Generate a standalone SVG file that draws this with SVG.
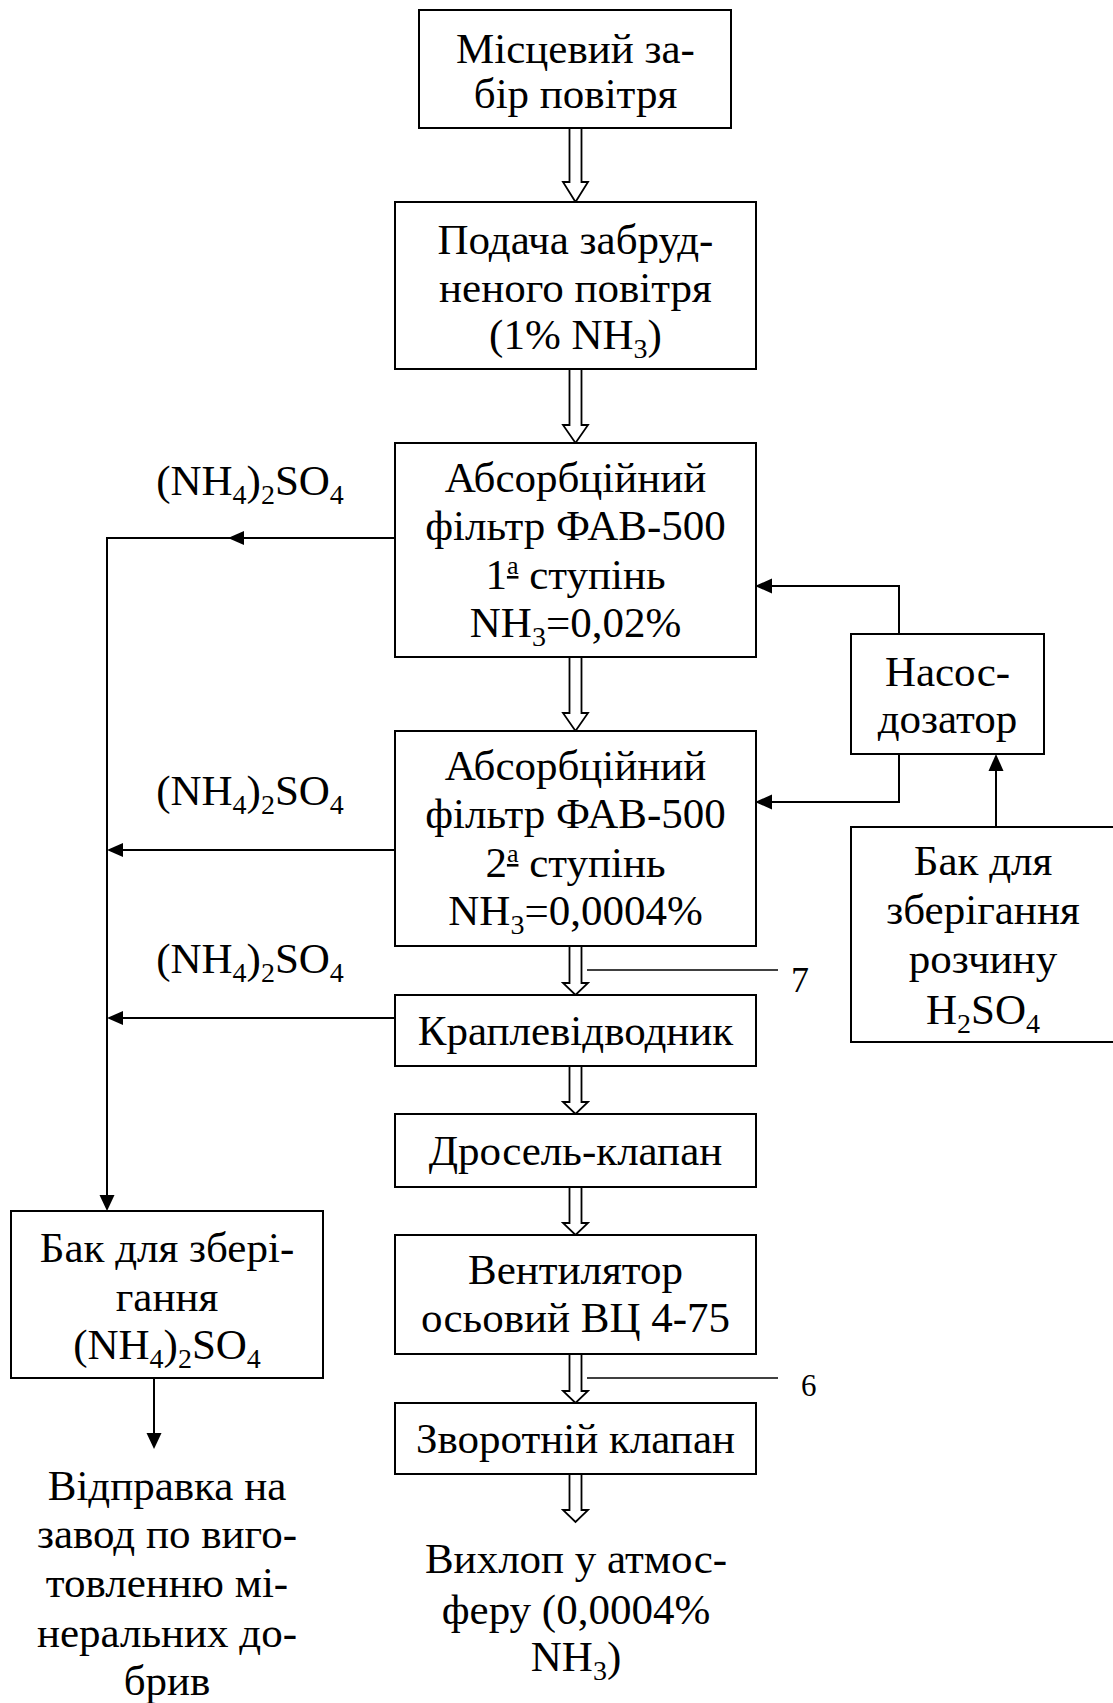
<svg xmlns="http://www.w3.org/2000/svg" width="1113" height="1703" viewBox="0 0 1113 1703">
<style>
  text { font-family: "Liberation Serif", "Times New Roman", serif; font-size: 43px; fill: #000; text-anchor: middle; }
  .box { fill: #fff; stroke: #000; stroke-width: 2; }
  .ln { fill: none; stroke: #000; stroke-width: 2; }
  .thin { fill: none; stroke: #000; stroke-width: 1.5; }
  .hollow { fill: #fff; stroke: #000; stroke-width: 1.8; stroke-linejoin: miter; }
  .head { fill: #000; stroke: none; }
  .sub { font-size: 28px; }
  .sup { font-size: 26px; text-decoration: underline; }
  .num { text-anchor: start; }
</style>
<rect width="1113" height="1703" fill="#fff"/>

<g id="connectors">
  <!-- hollow main-flow arrows -->
  <polygon class="hollow" points="569.5,128 581.5,128 581.5,182 588,182 575.5,202 563,182 569.5,182"/>
  <polygon class="hollow" points="569.5,369 581.5,369 581.5,425 588,425 575.5,443 563,425 569.5,425"/>
  <polygon class="hollow" points="569.5,657 581.5,657 581.5,713 588,713 575.5,731 563,713 569.5,713"/>
  <polygon class="hollow" points="569.5,946 581.5,946 581.5,983 588,983 575.5,995 563,983 569.5,983"/>
  <polygon class="hollow" points="569.5,1066 581.5,1066 581.5,1102 588,1102 575.5,1114 563,1102 569.5,1102"/>
  <polygon class="hollow" points="569.5,1187 581.5,1187 581.5,1223 588,1223 575.5,1235 563,1223 569.5,1223"/>
  <polygon class="hollow" points="569.5,1354 581.5,1354 581.5,1391 588,1391 575.5,1403 563,1391 569.5,1391"/>
  <polygon class="hollow" points="569.5,1474 581.5,1474 581.5,1510 588,1510 575.5,1522 563,1510 569.5,1510"/>

  <!-- leader lines 7 and 6 -->
  <line class="thin" x1="587" y1="970" x2="778" y2="970"/>
  <line class="thin" x1="587" y1="1378" x2="778" y2="1378"/>

  <!-- left collection lines -->
  <polyline class="ln" points="395,538 107,538 107,1196"/>
  <polygon class="head" points="228,538 244,531 244,545"/>
  <polygon class="head" points="107,1211 99.5,1195 114.5,1195"/>
  <line class="ln" x1="395" y1="850" x2="120" y2="850"/>
  <polygon class="head" points="107,850 123,843 123,857"/>
  <line class="ln" x1="395" y1="1018" x2="120" y2="1018"/>
  <polygon class="head" points="107,1018 123,1011 123,1025"/>

  <!-- tank to shipment -->
  <line class="ln" x1="154" y1="1378" x2="154" y2="1434"/>
  <polygon class="head" points="154,1449 146.5,1433 161.5,1433"/>

  <!-- dosing pump to filters -->
  <polyline class="ln" points="899,634 899,586 770,586"/>
  <polygon class="head" points="755,586 772,578.5 772,593.5"/>
  <polyline class="ln" points="899,754 899,802 770,802"/>
  <polygon class="head" points="755,802 772,794.5 772,809.5"/>

  <!-- acid tank to pump -->
  <line class="ln" x1="996" y1="827" x2="996" y2="769"/>
  <polygon class="head" points="996,754 988.5,771 1003.5,771"/>
</g>

<g id="n-intake">
  <rect class="box" x="419" y="10" width="312" height="118"/>
  <text x="575.5" y="63">Місцевий за-</text>
  <text x="575.5" y="108">бір повітря</text>
</g>

<g id="n-supply">
  <rect class="box" x="395" y="202" width="361" height="167"/>
  <text x="575.5" y="254">Подача забруд-</text>
  <text x="575.5" y="302">неного повітря</text>
  <text x="575.5" y="349">(1% NH<tspan class="sub" dy="9">3</tspan><tspan dy="-9">)</tspan></text>
</g>

<g id="n-filter1">
  <rect class="box" x="395" y="443" width="361" height="214"/>
  <text x="575.5" y="492">Абсорбційний</text>
  <text x="575.5" y="540">фільтр ФАВ-500</text>
  <text x="575.5" y="589">1<tspan class="sup" dy="-15">a</tspan><tspan dy="15"> ступінь</tspan></text>
  <text x="575.5" y="637">NH<tspan class="sub" dy="9">3</tspan><tspan dy="-9">=0,02%</tspan></text>
</g>

<g id="n-filter2">
  <rect class="box" x="395" y="731" width="361" height="215"/>
  <text x="575.5" y="780">Абсорбційний</text>
  <text x="575.5" y="828">фільтр ФАВ-500</text>
  <text x="575.5" y="877">2<tspan class="sup" dy="-15">a</tspan><tspan dy="15"> ступінь</tspan></text>
  <text x="575.5" y="925">NH<tspan class="sub" dy="9">3</tspan><tspan dy="-9">=0,0004%</tspan></text>
</g>

<g id="n-droplet">
  <rect class="box" x="395" y="995" width="361" height="71"/>
  <text x="575.5" y="1045">Краплевідводник</text>
</g>

<g id="n-throttle">
  <rect class="box" x="395" y="1114" width="361" height="73"/>
  <text x="575.5" y="1165">Дросель-клапан</text>
</g>

<g id="n-fan">
  <rect class="box" x="395" y="1235" width="361" height="119"/>
  <text x="575.5" y="1284">Вентилятор</text>
  <text x="575.5" y="1332">осьовий ВЦ 4-75</text>
</g>

<g id="n-check">
  <rect class="box" x="395" y="1403" width="361" height="71"/>
  <text x="575.5" y="1453">Зворотній клапан</text>
</g>

<g id="n-exhaust">
  <text x="576" y="1573">Вихлоп у атмос-</text>
  <text x="576" y="1624">феру (0,0004%</text>
  <text x="576" y="1671">NH<tspan class="sub" dy="9">3</tspan><tspan dy="-9">)</tspan></text>
</g>

<g id="n-pump">
  <rect class="box" x="851" y="634" width="193" height="120"/>
  <text x="947.5" y="686">Насос-</text>
  <text x="947.5" y="733">дозатор</text>
</g>

<g id="n-acid-tank">
  <rect class="box" x="851" y="827" width="270" height="215"/>
  <text x="983" y="875">Бак для</text>
  <text x="983" y="924">зберігання</text>
  <text x="983" y="973">розчину</text>
  <text x="983" y="1024">H<tspan class="sub" dy="9">2</tspan><tspan dy="-9">SO</tspan><tspan class="sub" dy="9">4</tspan></text>
</g>

<g id="n-sulfate-tank">
  <rect class="box" x="11" y="1211" width="312" height="167"/>
  <text x="167" y="1262">Бак для збері-</text>
  <text x="167" y="1311">гання</text>
  <text x="167" y="1359">(NH<tspan class="sub" dy="9">4</tspan><tspan dy="-9">)</tspan><tspan class="sub" dy="9">2</tspan><tspan dy="-9">SO</tspan><tspan class="sub" dy="9">4</tspan></text>
</g>

<g id="n-shipment">
  <text x="167" y="1500">Відправка на</text>
  <text x="167" y="1548">завод по виго-</text>
  <text x="167" y="1597">товленню мі-</text>
  <text x="167" y="1647">неральних до-</text>
  <text x="167" y="1695">брив</text>
</g>

<g id="labels">
  <text x="250" y="495">(NH<tspan class="sub" dy="9">4</tspan><tspan dy="-9">)</tspan><tspan class="sub" dy="9">2</tspan><tspan dy="-9">SO</tspan><tspan class="sub" dy="9">4</tspan></text>
  <text x="250" y="805">(NH<tspan class="sub" dy="9">4</tspan><tspan dy="-9">)</tspan><tspan class="sub" dy="9">2</tspan><tspan dy="-9">SO</tspan><tspan class="sub" dy="9">4</tspan></text>
  <text x="250" y="973">(NH<tspan class="sub" dy="9">4</tspan><tspan dy="-9">)</tspan><tspan class="sub" dy="9">2</tspan><tspan dy="-9">SO</tspan><tspan class="sub" dy="9">4</tspan></text>
  <text class="num" x="791" y="992" style="font-size:36px">7</text>
  <text class="num" x="801" y="1396" style="font-size:31px">6</text>
</g>
</svg>
